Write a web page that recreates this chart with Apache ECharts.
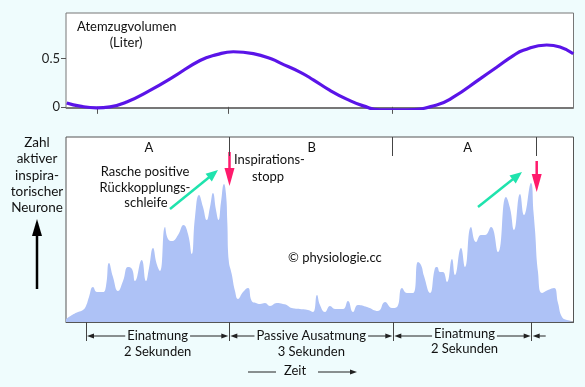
<!DOCTYPE html>
<html>
<head>
<meta charset="utf-8">
<script src="https://cdn.jsdelivr.net/npm/echarts@6/dist/echarts.min.js"></script>
<style>
html,body{margin:0;padding:0;background:#effcfd;}
#c{width:585px;height:387px;}
</style>
</head>
<body>
<div id="c"></div>
<script>
// ---- Data ----
// Tidal volume (Liter) over time (abstract time units)
const volumeT = [0.7, 14, 30.7, 44, 60.7, 84, 107.3, 134, 150.7, 167.3, 187.3, 207, 214, 234, 247.3, 264, 280.7, 297.3, 314, 340.7, 370.7, 387.3, 414, 430.7, 447.3, 457.3, 480.7, 494, 507.3];
const volumeL = [0.04, 0.007, -0.01, 0, 0.05, 0.17, 0.31, 0.48, 0.54, 0.57, 0.55, 0.49, 0.455, 0.36, 0.28, 0.17, 0.08, 0.01, -0.03, -0.03, 0.02, 0.10, 0.29, 0.41, 0.53, 0.585, 0.64, 0.62, 0.55];
// Number of active inspiratory neurons (arbitrary units)
const neuronT = [0, 6, 12, 17, 20, 23, 27, 31, 37, 40, 43, 47, 52, 57, 62, 66, 69, 75.7, 80, 83, 87, 90.7, 94, 99, 102, 106, 112, 117.5, 122, 125.7, 129, 133, 137, 140.7, 144, 147, 150, 152.5, 155, 158, 160, 161.3, 162.7, 165.7, 169, 172, 177, 182, 185.7, 190, 194, 199, 204, 210.7, 217, 220.7, 225.7, 234, 242, 247, 251, 254, 259, 264, 269, 277, 282, 287, 292, 301, 312, 319, 326, 331, 336, 341, 347, 352, 355, 358, 364, 369, 371, 374, 377, 381, 386, 389, 395, 399, 405, 410, 415, 419, 425, 432, 440, 444, 448, 454, 458, 465, 467.5, 469, 472, 476, 482, 488, 492, 496, 501, 507.5];
const neuronN = [3, 7, 10, 12, 16, 25, 35, 30, 30, 36, 59, 45, 31, 41, 55, 53, 41, 62, 41, 54, 74, 58, 51, 95, 83, 81, 87, 97, 88, 68, 105, 127, 115, 102, 115, 129, 112, 102, 120, 138, 128, 100, 62, 48, 31, 23, 30, 34, 21, 19, 18, 19, 16, 19, 18, 17, 14, 13, 12, 10, 27, 17, 10, 16, 13, 13, 21, 10, 17, 15, 11, 20, 14, 15, 34, 29, 29, 60, 57, 46, 29, 54, 55, 50, 50, 40, 63, 47, 74, 55, 95, 80, 87, 87, 95, 70, 125, 114, 92, 128, 107, 139, 110, 92, 50, 29, 32, 34, 19, 5, 2, 1];
// Ticks / labels
const volLabelVals = [0, 0.5];
const volTickT = [31, 162, 326];
const phaseTopTickT = [163.3, 326, 470.5];
const phaseTopLabelT = [83, 245.7, 401.7];
const phaseTopLabels = ['A', 'B', 'A'];
const phaseBottomT = [20, 163.3, 327.3, 465.7];
const phaseNames = ['Einatmung', 'Passive Ausatmung', 'Einatmung'];
const phaseDurations = ['2 Sekunden', '3 Sekunden', '2 Sekunden'];
const stopArrowT = [163.5, 470.7];   // red arrows

const BG = '#effcfd';
const FONT = 'Lato';
const T_MAX = 507.5;

const chart = echarts.init(document.getElementById('c'), null, {renderer: 'canvas'});

const option = {
  backgroundColor: BG,
  animation: false,
  textStyle: {fontFamily: FONT},
  grid: [
    {left: 66, top: 13, width: 507.5, height: 95.5, show: true, backgroundColor: '#ffffff', borderColor: '#777', borderWidth: 1},
    {left: 66, top: 137, width: 507.5, height: 185, show: true, backgroundColor: '#ffffff', borderColor: '#555', borderWidth: 1}
  ],
  xAxis: [
    {gridIndex: 0, type: 'value', min: 0, max: T_MAX, position: 'bottom',
      axisLine: {show: true, lineStyle: {color: '#777', width: 1}},
      axisTick: {show: true, customValues: volTickT, length: 7, lineStyle: {color: '#555', width: 1}},
      axisLabel: {show: false}, splitLine: {show: false}},
    {gridIndex: 1, type: 'value', min: 0, max: T_MAX, position: 'bottom',
      axisLine: {show: true, lineStyle: {color: '#555', width: 1}},
      axisTick: {show: true, customValues: phaseBottomT, length: 19, lineStyle: {color: '#444', width: 1}},
      axisLabel: {show: false}, splitLine: {show: false}},
    {gridIndex: 1, type: 'value', min: 0, max: T_MAX, position: 'top',
      axisLine: {show: false},
      axisTick: {show: true, inside: true, customValues: phaseTopTickT, length: 19, lineStyle: {color: '#444', width: 1}},
      axisLabel: {show: true, inside: true, customValues: phaseTopLabelT, margin: 4,
        fontFamily: FONT, fontSize: 13, color: '#111',
        formatter: function (v) {
          let best = 0;
          for (let i = 0; i < phaseTopLabelT.length; i++) {
            if (Math.abs(phaseTopLabelT[i] - v) < Math.abs(phaseTopLabelT[best] - v)) best = i;
          }
          return phaseTopLabels[best];
        }},
      splitLine: {show: false}}
  ],
  yAxis: [
    {gridIndex: 0, type: 'value', min: -0.017, max: 0.971,
      axisLine: {show: false},
      axisTick: {show: true, customValues: volLabelVals, length: 5, lineStyle: {color: '#555'}},
      axisLabel: {show: true, customValues: volLabelVals, margin: 6, fontFamily: FONT, fontSize: 13, color: '#222',
        formatter: function (v) { return String(v); }},
      splitLine: {show: false}},
    {gridIndex: 1, type: 'value', min: 0, max: 185,
      axisLine: {show: false}, axisTick: {show: false}, axisLabel: {show: false}, splitLine: {show: false}}
  ],
  series: [
    {type: 'line', xAxisIndex: 0, yAxisIndex: 0, smooth: true, symbol: 'none',
      lineStyle: {color: '#5a14e8', width: 3.2},
      data: volumeT.map((t, i) => [t, volumeL[i]])},
    {type: 'line', xAxisIndex: 1, yAxisIndex: 1, smooth: 0.5, symbol: 'none', clip: true,
      lineStyle: {width: 0}, areaStyle: {color: '#aec2f6', opacity: 1},
      data: neuronT.map((t, i) => [t, neuronN[i]])}
  ]
};
chart.setOption(option);

function arrow(x1, y1, x2, y2, color, w, headLen, headW) {
  const dx = x2 - x1, dy = y2 - y1, L = Math.hypot(dx, dy);
  const ux = dx / L, uy = dy / L;
  const bx = x2 - ux * headLen, by = y2 - uy * headLen;
  const px = -uy, py = ux;
  return [
    {type: 'line', silent: true, shape: {x1: x1, y1: y1, x2: bx + ux, y2: by + uy}, style: {stroke: color, lineWidth: w}},
    {type: 'polygon', silent: true, shape: {points: [[x2, y2], [bx + px * headW / 2, by + py * headW / 2], [bx - px * headW / 2, by - py * headW / 2]]}, style: {fill: color}}
  ];
}
function txt(x, y, s, opts) {
  opts = opts || {};
  return {type: 'text', silent: true, x: x, y: y, z: 10,
    style: Object.assign({text: s, fontFamily: FONT, fontSize: 13, fill: '#111', align: 'center', verticalAlign: 'middle'}, opts)};
}
const px = t => chart.convertToPixel({xAxisIndex: 1}, t);

const g = [];
// Top panel title
g.push(txt(77, 27, 'Atemzugvolumen', {align: 'left'}));
g.push(txt(126, 43, '(Liter)'));
// Left axis caption
const leftLines = ['Zahl', 'aktiver', 'inspira-', 'torischer', 'Neurone'];
leftLines.forEach((s, i) => g.push(txt(37, 143 + i * 16.1, s, {fontSize: 13.5})));
g.push(...arrow(37, 289, 37, 219, '#000', 2.5, 17, 10));
// Phase dimension lines
const dimY = 336;
for (let i = 0; i < phaseNames.length; i++) {
  const a = px(phaseBottomT[i]), b = px(phaseBottomT[i + 1]);
  const m = (a + b) / 2;
  g.push(...arrow(m, dimY, a + 1, dimY, '#222', 1, 7, 5));
  g.push(...arrow(m, dimY, b - 1, dimY, '#222', 1, 7, 5));
  g.push(txt(m + (i === 2 ? 2 : 0), dimY - (i === 2 ? 2 : 0), phaseNames[i], {backgroundColor: BG, padding: [0, 2]}));
  g.push(txt(m + (i === 2 ? 2 : 0), dimY + 16 - (i === 2 ? 3 : 0), phaseDurations[i]));
}
{
  const e = px(phaseBottomT[3]);
  g.push(...arrow(e + 14, dimY, e + 1, dimY, '#222', 1, 7, 5));
}
// Zeit
g.push(txt(295, 371, 'Zeit'));
g.push({type: 'line', silent: true, shape: {x1: 248, y1: 372, x2: 276, y2: 372}, style: {stroke: '#222', lineWidth: 1}});
g.push(...arrow(318, 372, 357, 372, '#222', 1, 7, 5));
// Annotations inside lower panel
g.push(txt(145, 172, 'Rasche positive'));
g.push(txt(145, 188, 'Rückkopplungs-'));
g.push(txt(146, 203, 'schleife'));
g.push(txt(234, 160, 'Inspirations-', {align: 'left'}));
g.push(txt(268, 177, 'stopp'));
g.push(txt(288, 258, '© physiologie.cc', {align: 'left'}));
// Green feedback arrows
g.push(...arrow(170, 209, 218, 170, '#1fe3ad', 2.5, 12, 10));
g.push(...arrow(478, 207, 522, 172, '#1fe3ad', 2.5, 12, 10));
// Red stop arrows
g.push(...arrow(px(stopArrowT[0]), 152, px(stopArrowT[0]), 186, '#ff1a6c', 2.5, 18, 10));
g.push(...arrow(px(stopArrowT[1]), 161, px(stopArrowT[1]), 192, '#ff1a6c', 2.5, 18, 10));

chart.setOption({graphic: g});
</script>
</body>
</html>
